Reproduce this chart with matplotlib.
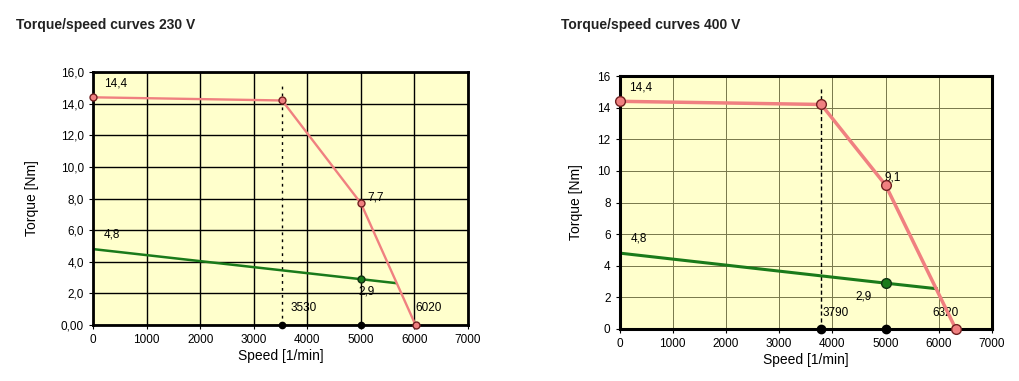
import matplotlib.pyplot as plt
import matplotlib.ticker as mticker

plt.rcParams['font.family'] = ['Liberation Sans', 'DejaVu Sans']

# 230 V data
speed_230 = [0, 3530, 5000, 6020]
torque_230 = [14.4, 14.2, 7.7, 0.0]
green_230_x = [0, 5650]
green_230_y = [4.8, 2.65]
green_pt_230 = (5000, 2.9)
base_230 = [3530, 5000]

# 400 V data
speed_400 = [0, 3790, 5000, 6320]
torque_400 = [14.4, 14.2, 9.1, 0.0]
green_400_x = [0, 5000, 5950]
green_400_y = [4.8, 2.9, 2.55]
green_pt_400 = (5000, 2.9)
base_400 = [3790, 5000]

pink = '#f08080'
green = '#1a7a1a'
bg = '#ffffcc'

fig = plt.figure(figsize=(10.19, 3.81), dpi=100)
fig.patch.set_facecolor('white')

ax1 = fig.add_axes([0.0913, 0.147, 0.368, 0.664])
ax2 = fig.add_axes([0.608, 0.1365, 0.3655, 0.664])

fig.text(0.016, 0.925, 'Torque/speed curves 230 V', fontsize=10, fontweight='bold',
         color='#222222')
fig.text(0.551, 0.925, 'Torque/speed curves 400 V', fontsize=10, fontweight='bold',
         color='#222222')

# ---- left chart
ax = ax1
ax.set_facecolor(bg)
ax.set_xlim(0, 7000)
ax.set_ylim(0, 16)
ax.set_xticks(range(0, 7001, 1000))
ax.set_yticks(range(0, 17, 2))
ax.grid(True, color='black', linewidth=1.0)
ax.set_axisbelow(True)
ax.plot([base_230[0], base_230[0]], [0, 15.2], color='black', linestyle=(0, (2, 3)), linewidth=1.0)
ax.plot(green_230_x, green_230_y, color=green, linewidth=1.8)
ax.plot([green_pt_230[0]], [green_pt_230[1]], 'o', color=green, markeredgecolor='#113311', markersize=5)
ax.plot(speed_230, torque_230, color=pink, linewidth=1.7, marker='o', markersize=5,
        markerfacecolor=pink, markeredgecolor='#702020', clip_on=False, zorder=4)
ax.plot(base_230, [0, 0], 'o', color='black', markersize=4.5, clip_on=False, zorder=5)
ax.annotate('14,4', (0, 14.4), xytext=(8, 8), textcoords='offset points', fontsize=8.5)
ax.annotate('7,7', (5000, 7.7), xytext=(5, 2), textcoords='offset points', fontsize=8.5)
ax.annotate('4,8', (0, 4.8), xytext=(8, 8), textcoords='offset points', fontsize=8.5)
ax.annotate('2,9', (5000, 2.9), xytext=(-2, -11), textcoords='offset points', fontsize=8.5)
ax.annotate('3530', (3530, 0), xytext=(6, 10), textcoords='offset points', fontsize=8.5)
ax.annotate('6020', (6020, 0), xytext=(0, 10), textcoords='offset points', fontsize=8.5)
ax.yaxis.set_major_formatter(mticker.FuncFormatter(
    lambda v, p: '0,00' if v == 0 else ('%.1f' % v).replace('.', ',')))
for s in ax.spines.values():
    s.set_linewidth(2)
ax.tick_params(labelsize=8.5, length=3)
ax.set_xlabel('Speed [1/min]', fontsize=10, labelpad=2)
ax.set_ylabel('Torque [Nm]', fontsize=10, labelpad=16)

# ---- right chart
ax = ax2
ax.set_facecolor(bg)
ax.set_xlim(0, 7000)
ax.set_ylim(0, 16)
ax.set_xticks(range(0, 7001, 1000))
ax.set_yticks(range(0, 17, 2))
ax.grid(True, color='#77774a', linewidth=0.7)
ax.set_axisbelow(True)
ax.plot([base_400[0], base_400[0]], [0, 15.2], color='black', linestyle=(0, (3, 2)), linewidth=1.0)
ax.plot(green_400_x, green_400_y, color=green, linewidth=2.2)
ax.plot([green_pt_400[0]], [green_pt_400[1]], 'o', color=green, markeredgecolor='#113311', markersize=7)
ax.plot(speed_400, torque_400, color=pink, linewidth=2.5, marker='o', markersize=7,
        markerfacecolor=pink, markeredgecolor='#702020', clip_on=False, zorder=4)
ax.plot(base_400, [0, 0], 'o', color='black', markersize=6, clip_on=False, zorder=5)
ax.annotate('14,4', (0, 14.4), xytext=(7, 8), textcoords='offset points', fontsize=8.5)
ax.annotate('9,1', (5000, 9.1), xytext=(-1, 3), textcoords='offset points', fontsize=8.5)
ax.annotate('4,8', (0, 4.8), xytext=(8, 8), textcoords='offset points', fontsize=8.5)
ax.annotate('2,9', (5000, 2.9), xytext=(-22, -12), textcoords='offset points', fontsize=8.5)
ax.annotate('3790', (3790, 0), xytext=(1, 9), textcoords='offset points', fontsize=8.5)
ax.annotate('6320', (6320, 0), xytext=(-17, 9), textcoords='offset points', fontsize=8.5)
for s in ax.spines.values():
    s.set_linewidth(2.2)
ax.tick_params(labelsize=8.5, length=3)
ax.set_xlabel('Speed [1/min]', fontsize=10, labelpad=2)
ax.set_ylabel('Torque [Nm]', fontsize=10, labelpad=10)

fig.savefig('out.png', dpi=100)
